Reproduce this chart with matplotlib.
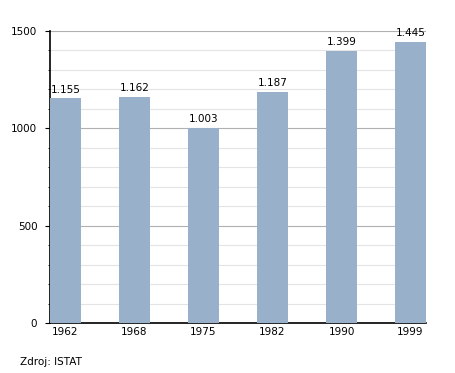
import numpy as np
import matplotlib.pyplot as plt
from matplotlib.ticker import MultipleLocator

years = ["1962", "1968", "1975", "1982", "1990", "1999"]
population = [1155, 1162, 1003, 1187, 1399, 1445]
bar_labels = ["1.155", "1.162", "1.003", "1.187", "1.399", "1.445"]

fig = plt.figure(figsize=(4.55, 3.73), dpi=100)
ax = fig.add_axes([50 / 455, 50 / 373, 376 / 455, 292 / 373])

x = np.arange(len(years))
w = 31 / 69
bars = ax.bar(x, population, width=w, color="#98b0ca", zorder=3)
for b, lab in zip(bars, bar_labels):
    ax.text(b.get_x() + b.get_width() / 2, b.get_height() + 18, lab,
            ha="center", va="bottom", fontsize=7.5, zorder=4)

ax.set_xlim(-w / 2, len(years) - 1 + w / 2)
ax.set_ylim(0, 1500)
ax.set_xticks(x)
ax.set_xticklabels(years, fontsize=7.5)
ax.tick_params(axis="x", length=0, pad=3)
ax.yaxis.set_major_locator(MultipleLocator(500))
ax.yaxis.set_minor_locator(MultipleLocator(100))
ax.tick_params(axis="y", which="major", length=3.6, labelsize=7.5, pad=5.5)
ax.tick_params(axis="y", which="minor", length=1.5)
ax.grid(axis="y", which="major", color="#b0b0b0", lw=0.8, zorder=0)
ax.grid(axis="y", which="minor", color="#e4e4e4", lw=0.8, zorder=0)
for s in ["top", "right"]:
    ax.spines[s].set_visible(False)
ax.spines["left"].set_linewidth(1.2)
ax.spines["bottom"].set_linewidth(1.2)

fig.text(20 / 455, 1 - 362 / 373, "Zdroj: ISTAT", fontsize=7.5, va="center")

fig.savefig("out.png", dpi=100)
